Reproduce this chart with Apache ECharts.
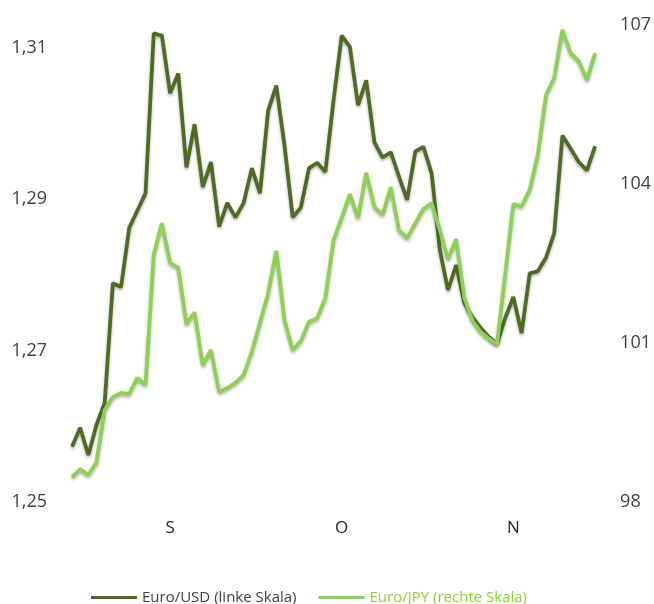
<!DOCTYPE html>
<html>
<head>
<meta charset="utf-8">
<script src="https://cdn.jsdelivr.net/npm/echarts@6/dist/echarts.min.js"></script>
<style>
  html, body { margin: 0; padding: 0; background: #fff; }
  #chart { width: 654px; height: 604px; }
</style>
</head>
<body>
<div id="chart"></div>
<script>
// trading days, month labels shown at the first day of each month
const monthTickIndex = [12, 33, 54]
const monthTickLabel = ['S', 'O', 'N']

const eurUsd = [
  1.2573, 1.2598, 1.2562, 1.2602, 1.2631, 1.2789, 1.2784, 1.2862, 1.2885, 1.2908,
  1.3119, 1.3116, 1.3040, 1.3066, 1.2942, 1.2999, 1.2916, 1.2949, 1.2864, 1.2895,
  1.2876, 1.2895, 1.2941, 1.2908, 1.3017, 1.3050, 1.2971, 1.2876, 1.2889, 1.2941,
  1.2948, 1.2936, 1.3031, 1.3116, 1.3101, 1.3024, 1.3057, 1.2975, 1.2955, 1.2962,
  1.2930, 1.2899, 1.2963, 1.2969, 1.2934, 1.2833, 1.2780, 1.2813, 1.2763, 1.2744,
  1.2730, 1.2718, 1.2709, 1.2743, 1.2771, 1.2723, 1.2802, 1.2805, 1.2823, 1.2855,
  1.2984, 1.2967, 1.2949, 1.2938, 1.2970
]

const eurJpy = [
  98.47, 98.62, 98.51, 98.75, 99.74, 99.98, 100.06, 100.04, 100.34, 100.21,
  102.66, 103.26, 102.51, 102.42, 101.36, 101.58, 100.58, 100.87, 100.08, 100.15,
  100.25, 100.40, 100.83, 101.38, 101.94, 102.74, 101.43, 100.87, 101.04, 101.40,
  101.47, 101.85, 102.94, 103.36, 103.81, 103.36, 104.21, 103.57, 103.42, 103.94,
  103.13, 102.98, 103.26, 103.53, 103.64, 103.13, 102.58, 102.96, 101.85, 101.42,
  101.21, 101.08, 100.98, 102.28, 103.62, 103.58, 103.89, 104.55, 105.68, 106.00,
  106.91, 106.47, 106.32, 105.96, 106.47
]

const days = eurUsd.map((_, i) => i)

const colors = ['#4e6b23', '#8dd150']
const font = 'Open Sans'

const chart = echarts.init(document.getElementById('chart'))
chart.setOption({
  animation: false,
  color: colors,
  grid: {
    left: 72,
    right: 58,
    top: 25,
    bottom: 102
  },
  legend: {
    top: 585,
    left: 86,
    itemWidth: 46,
    itemHeight: 3,
    itemGap: 22,
    icon: 'rect',
    textStyle: {
      fontFamily: font,
      fontSize: 15,
      padding: [0, 0, 0, 0]
    },
    data: [
      { name: 'Euro/USD (linke Skala)', textStyle: { color: '#404040' } },
      { name: 'Euro/JPY (rechte Skala)', textStyle: { color: '#8dd130' } }
    ]
  },
  xAxis: {
    type: 'category',
    boundaryGap: false,
    data: days,
    axisLine: { show: false },
    axisTick: { show: false },
    splitLine: { show: false },
    axisLabel: {
      interval: 0,
      margin: 18,
      color: '#262626',
      fontFamily: font,
      fontSize: 17,
      formatter: (v, i) => {
        const k = monthTickIndex.indexOf(i)
        return k >= 0 ? monthTickLabel[k] : ''
      }
    }
  },
  yAxis: [
    {
      type: 'value',
      position: 'left',
      min: 1.25,
      max: 1.313,
      interval: 0.02,
      axisLine: { show: false },
      axisTick: { show: false },
      splitLine: { show: false },
      axisLabel: {
        margin: 25,
        color: '#404040',
        fontFamily: font,
        fontSize: 18,
        formatter: (v) => {
          const n = (v - 1.25) * 50
          return Math.abs(n - Math.round(n)) < 1e-6 ? v.toFixed(2).replace('.', ',') : ''
        }
      }
    },
    {
      type: 'value',
      position: 'right',
      min: 98,
      max: 107,
      interval: 3,
      axisLine: { show: false },
      axisTick: { show: false },
      splitLine: { show: false },
      axisLabel: {
        margin: 25,
        color: '#404040',
        fontFamily: font,
        fontSize: 18
      }
    }
  ],
  series: [
    {
      name: 'Euro/USD (linke Skala)',
      type: 'line',
      yAxisIndex: 0,
      showSymbol: false,
      data: eurUsd,
      lineStyle: {
        width: 3.75,
        shadowColor: 'rgba(0, 0, 0, 0.3)',
        shadowBlur: 3,
        shadowOffsetY: 2
      }
    },
    {
      name: 'Euro/JPY (rechte Skala)',
      type: 'line',
      yAxisIndex: 1,
      showSymbol: false,
      data: eurJpy,
      lineStyle: {
        width: 3.75,
        shadowColor: 'rgba(0, 0, 0, 0.3)',
        shadowBlur: 3,
        shadowOffsetY: 2
      }
    }
  ]
})
</script>
</body>
</html>
